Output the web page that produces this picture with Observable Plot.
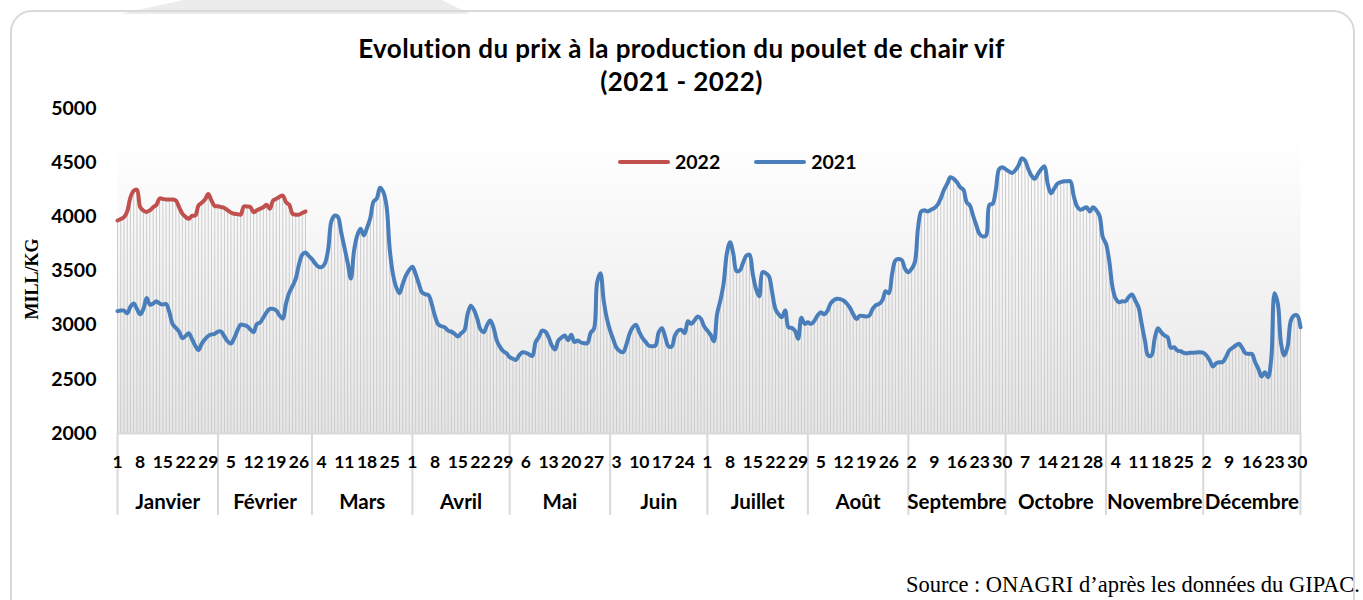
<!DOCTYPE html>
<html>
<head>
<meta charset="utf-8">
<script src="https://cdn.jsdelivr.net/npm/d3@7"></script>
<script src="https://cdn.jsdelivr.net/npm/@observablehq/plot@0.6"></script>
<style>
  html, body { margin: 0; padding: 0; background: #fff; }
  #page { position: relative; width: 1363px; height: 600px; overflow: hidden; font-family: Lato, "Open Sans", sans-serif; }
  #wm { position: absolute; left: 120px; top: 0; width: 350px; height: 14px; background: #ececec; clip-path: polygon(0 100%, 18% 0, 92% 0, 100% 100%); }
  #border { position: absolute; left: 10px; top: 10px; width: 1345px; height: 640px; border: 2px solid #d9d9d9; border-radius: 22px; box-sizing: border-box; }
  #title { position: absolute; top: 32px; left: 0; width: 1363px; text-align: center; font-weight: bold; font-size: 26px; letter-spacing: 0.4px; line-height: 33px; color: #000; }
  #ylabel { position: absolute; left: 32px; top: 279px; transform: translate(-50%, -50%) rotate(-90deg); font-family: "Liberation Serif", "DejaVu Serif", serif; font-weight: bold; font-size: 18px; white-space: nowrap; }
  #chart { position: absolute; left: 0; top: 100px; }
  #legend { position: absolute; top: 150px; left: 618px; font-weight: bold; font-size: 19.5px; display: flex; align-items: center; }
  #legend .sw { display: inline-block; width: 52px; height: 4px; border-radius: 2px; margin-right: 5px; }
  #legend .it { display: flex; align-items: center; margin-right: 34px; }
  #source { position: absolute; right: 3px; top: 572px; font-family: "Liberation Serif", "DejaVu Serif", serif; font-size: 22.5px; white-space: nowrap; }
</style>
</head>
<body>
<div id="page">
  <div id="wm"></div>
  <div id="border"></div>
  <div id="title">Evolution du prix à la production du poulet de chair vif<br>(2021 - 2022)</div>
  <div id="ylabel">MILL/KG</div>
  <div id="chart"></div>
  <div id="legend"></div>
  <div id="source">Source : ONAGRI d’après les données du GIPAC.</div>
</div>
<script>
// ---------- DATA ----------
const months = ["Janvier","Février","Mars","Avril","Mai","Juin","Juillet","Août","Septembre","Octobre","Novembre","Décembre"];
const monthDays = [31,29,31,30,31,30,31,31,30,31,30,31];
const dayTicks = [
  [1,8,15,22,29],[5,12,19,26],[4,11,18,25],[1,8,15,22,29],[6,13,20,27],[3,10,17,24],
  [1,8,15,22,29],[5,12,19,26],[2,9,16,23,30],[7,14,21,28],[4,11,18,25],[2,9,16,23,30]
];
const yTicks = [2000,2500,3000,3500,4000,4500,5000];
const seriesNames = ["2022","2021"];
const seriesColors = ["#c0504d","#4a7ebb"];

// 2021 daily price (MILL/KG), one value per category (366)
const v2021 = [
3130,3135,3135,3110,3170,3200,3150,3100,3150,3250,3190,3200,3220,3200,3190,3195,3120,3010,2975,2940,
2880,2900,2925,2870,2810,2770,2830,2870,2900,2915,2920,2940,2940,2895,2850,2830,2880,2950,3005,3000,
2990,2960,2935,3010,3025,3070,3120,3150,3150,3135,3090,3060,3200,3300,3360,3430,3560,3650,3670,3640,
3610,3570,3540,3535,3570,3700,3960,4010,4000,3860,3720,3580,3430,3690,3830,3890,3830,3900,3990,4140,
4170,4268,4230,4100,3700,3470,3350,3295,3380,3460,3510,3540,3470,3380,3300,3285,3275,3190,3080,3005,
2990,2980,2950,2940,2920,2895,2925,2950,3100,3180,3140,3060,2960,2935,3000,3043,2980,2860,2800,2760,
2740,2705,2690,2680,2725,2750,2745,2730,2715,2843,2890,2950,2940,2890,2812,2775,2858,2885,2905,2860,
2911,2845,2858,2840,2834,2834,2930,2966,3397,3480,3230,3060,2950,2865,2790,2760,2751,2820,2920,2980,
3003,2935,2880,2843,2810,2806,2812,2935,2972,2890,2805,2803,2905,2950,2957,2926,3037,3012,3043,3080,
3060,2990,2950,2910,2852,3105,3228,3382,3660,3766,3660,3500,3505,3575,3640,3650,3474,3335,3267,3490,
3480,3450,3300,3150,3100,3074,3135,2981,2975,2950,2874,3068,3012,3027,3012,3040,3090,3120,3100,3130,
3200,3230,3243,3240,3228,3200,3160,3100,3058,3085,3085,3080,3090,3150,3185,3197,3230,3314,3295,3474,
3597,3610,3600,3520,3489,3520,3580,3900,4050,4060,4050,4066,4080,4110,4170,4250,4305,4366,4350,4320,
4274,4250,4135,4105,4010,3920,3840,3818,3828,4110,4120,4250,4440,4458,4440,4420,4405,4430,4474,4540,
4520,4443,4380,4351,4397,4440,4466,4305,4218,4260,4305,4320,4329,4329,4329,4196,4100,4066,4075,4089,
4050,4089,4060,4010,3812,3750,3590,3351,3243,3212,3220,3221,3260,3283,3228,3166,3012,2858,2720,2720,
2874,2972,2935,2905,2889,2791,2797,2766,2760,2745,2741,2745,2745,2748,2751,2745,2720,2674,2618,2649,
2658,2660,2705,2766,2790,2812,2828,2791,2741,2735,2735,2658,2597,2526,2566,2520,2700,3295,3200,2830,
2720,2800,3040,3089,3089,2981
];

// 2022 daily price, January - February
const v2022 = [
3966,3980,3997,4050,4180,4240,4250,4089,4058,4045,4060,4089,4110,4170,4165,4160,4160,4160,4150,4090,
4030,4000,3982,4010,4012,4105,4130,4160,4210,4150,4100,4097,4090,4082,4060,4040,4028,4025,4020,4097,
4095,4089,4043,4060,4074,4089,4112,4074,4150,4166,4185,4197,4135,4112,4028,4020,4020,4035,4050
];

// ---------- DERIVED ----------
const monthStart = [];
{ let s = 0; for (const d of monthDays) { monthStart.push(s); s += d; } }
const lastIdx = v2021.length - 1;
const monthBounds = [...monthStart, lastIdx];
const monthMid = monthStart.map((s, k) => (s + (k < 11 ? monthStart[k + 1] : lastIdx)) / 2);
const dayIdx = [], dayLabel = new Map();
dayTicks.forEach((days, m) => days.forEach(d => { const i = monthStart[m] + d - 1; dayIdx.push(i); dayLabel.set(i, String(d)); }));
const monthLabel = new Map(monthMid.map((x, k) => [x, months[k]]));

const rows2021 = v2021.map((v, i) => ({i, v}));
const rows2022 = v2022.map((v, i) => ({i, v}));
const drops = v2021.map((v, i) => ({i, top: Math.max(v, v2022[i] ?? 0)}));

const chart = Plot.plot({
  width: 1363,
  height: 440,
  marginLeft: 117,
  marginRight: 63,
  marginTop: 8,
  marginBottom: 107,
  x: {domain: [0, lastIdx]},
  y: {domain: [2000, 5000]},
  style: {fontFamily: "Lato, 'Open Sans', sans-serif", background: "transparent", color: "#000", overflow: "visible"},
  marks: [
    Plot.frame({fill: "url(#bgGrad)", stroke: "none"}),
    Plot.ruleX(drops, {x: "i", y1: 2000, y2: "top", stroke: "#cbcbcb", strokeWidth: 1}),
    Plot.ruleY([2000], {stroke: "#d9d9d9", strokeWidth: 2}),
    Plot.axisY({ticks: yTicks, tickSize: 0, tickPadding: 21, tickFormat: d => String(d), fontSize: 19.5, fontWeight: "bold", label: null}),
    Plot.axisX({ticks: monthBounds, tickSize: 82, stroke: "#d9d9d9", strokeWidth: 2, tickFormat: () => "", label: null}),
    Plot.axisX({ticks: dayIdx, tickSize: 0, tickPadding: 22, tickFormat: i => dayLabel.get(i), fontSize: 17.5, fontWeight: "bold", label: null}),
    Plot.axisX({ticks: monthMid, tickSize: 0, tickPadding: 61, tickFormat: x => monthLabel.get(x), fontSize: 20.5, fontWeight: "bold", label: null}),
    Plot.line(rows2021, {x: "i", y: "v", stroke: seriesColors[1], strokeWidth: 4, curve: "catmull-rom", strokeLinejoin: "round", strokeLinecap: "round"}),
    Plot.line(rows2022, {x: "i", y: "v", stroke: seriesColors[0], strokeWidth: 4, curve: "catmull-rom", strokeLinejoin: "round", strokeLinecap: "round"})
  ]
});

d3.select(chart).insert("defs", ":first-child").html(
  `<linearGradient id="bgGrad" x1="0" y1="0" x2="0" y2="1">
     <stop offset="0" stop-color="#ffffff"/>
     <stop offset="0.12" stop-color="#fefefe"/>
     <stop offset="1" stop-color="#e6e6e6"/>
   </linearGradient>`
);
document.getElementById("chart").appendChild(chart);

// legend
const legend = document.getElementById("legend");
seriesNames.forEach((n, k) => {
  const it = document.createElement("div");
  it.className = "it";
  it.innerHTML = `<span class="sw" style="background:${seriesColors[k]}"></span><span>${n}</span>`;
  legend.appendChild(it);
});
</script>
</body>
</html>
